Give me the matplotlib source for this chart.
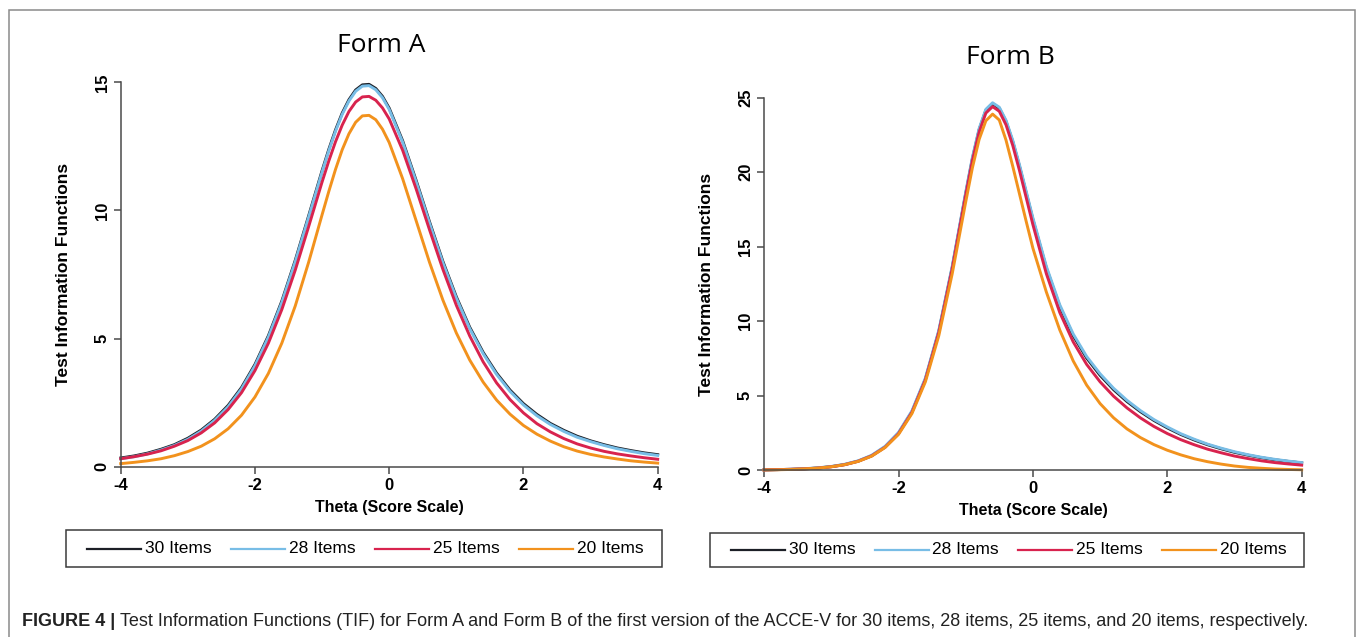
import matplotlib
matplotlib.use('Agg')
import matplotlib.pyplot as plt
from matplotlib.patches import Rectangle
from matplotlib.lines import Line2D

W, H = 1358, 637

# theta grid (shared by both forms), finer around the peaks
THETA = [-4.0, -3.8, -3.6, -3.4, -3.2, -3.0, -2.8, -2.6, -2.4, -2.2, -2.0, -1.8, -1.6, -1.4, -1.2, -1.0,
         -0.9, -0.8, -0.7, -0.6, -0.5, -0.4, -0.3, -0.2, -0.1, 0.0,
         0.2, 0.4, 0.6, 0.8, 1.0, 1.2, 1.4, 1.6, 1.8, 2.0, 2.2, 2.4, 2.6, 2.8, 3.0, 3.2, 3.4, 3.6, 3.8, 4.0]

# Form A test information
A_30 = [0.34, 0.42, 0.53, 0.68, 0.86, 1.11, 1.43, 1.85, 2.39, 3.09, 3.99, 5.11, 6.46, 8.05, 9.79, 11.55,
        12.38, 13.14, 13.80, 14.32, 14.70, 14.90, 14.92, 14.76, 14.45, 13.99,
        12.72, 11.18, 9.56, 8.01, 6.63, 5.44, 4.46, 3.65, 2.99, 2.46, 2.04, 1.69, 1.42, 1.19, 1.01, 0.86,
        0.73, 0.63, 0.54, 0.47]
A_28 = [0.31, 0.39, 0.50, 0.65, 0.83, 1.07, 1.39, 1.81, 2.34, 3.04, 3.94, 5.06, 6.41, 8.00, 9.74, 11.50,
        12.33, 13.09, 13.75, 14.27, 14.65, 14.85, 14.87, 14.71, 14.40, 13.94,
        12.67, 11.13, 9.51, 7.96, 6.58, 5.39, 4.41, 3.60, 2.94, 2.41, 1.99, 1.65, 1.38, 1.15, 0.98, 0.83,
        0.70, 0.60, 0.51, 0.44]
A_25 = [0.31, 0.39, 0.49, 0.62, 0.80, 1.02, 1.32, 1.71, 2.23, 2.89, 3.75, 4.82, 6.13, 7.67, 9.37, 11.11,
        11.93, 12.68, 13.33, 13.86, 14.23, 14.43, 14.45, 14.30, 14.00, 13.57,
        12.35, 10.85, 9.25, 7.70, 6.30, 5.10, 4.09, 3.27, 2.62, 2.10, 1.68, 1.36, 1.10, 0.89, 0.73, 0.60,
        0.50, 0.42, 0.35, 0.29]
A_20 = [0.12, 0.17, 0.23, 0.31, 0.43, 0.59, 0.80, 1.09, 1.48, 2.01, 2.72, 3.64, 4.82, 6.27, 7.98, 9.83,
        10.74, 11.60, 12.37, 12.99, 13.44, 13.69, 13.71, 13.54, 13.17, 12.65,
        11.24, 9.61, 7.98, 6.50, 5.22, 4.16, 3.30, 2.60, 2.05, 1.61, 1.27, 1.00, 0.78, 0.61, 0.48, 0.38,
        0.30, 0.23, 0.18, 0.14]

# Form B test information
B_30 = [0.02, 0.04, 0.06, 0.09, 0.15, 0.24, 0.38, 0.61, 0.97, 1.56, 2.48, 3.92, 6.11, 9.31, 13.61, 18.56,
        20.91, 22.85, 24.15, 24.60, 24.29, 23.40, 22.05, 20.40, 18.61, 16.82,
        13.57, 10.99, 9.03, 7.53, 6.37, 5.41, 4.61, 3.93, 3.34, 2.84, 2.40, 2.03, 1.71, 1.44, 1.20, 1.01,
        0.84, 0.70, 0.59, 0.49]
B_28 = [0.02, 0.04, 0.06, 0.10, 0.16, 0.25, 0.40, 0.63, 1.00, 1.60, 2.53, 3.98, 6.18, 9.39, 13.70, 18.65,
        21.00, 22.93, 24.22, 24.66, 24.36, 23.48, 22.14, 20.50, 18.72, 16.93,
        13.68, 11.10, 9.14, 7.63, 6.47, 5.50, 4.69, 4.00, 3.40, 2.90, 2.45, 2.08, 1.75, 1.48, 1.24, 1.04,
        0.87, 0.73, 0.61, 0.51]
B_25 = [0.02, 0.04, 0.06, 0.09, 0.14, 0.23, 0.37, 0.60, 0.96, 1.54, 2.45, 3.88, 6.06, 9.25, 13.53, 18.46,
        20.79, 22.70, 23.97, 24.40, 24.09, 23.18, 21.80, 20.12, 18.30, 16.48,
        13.19, 10.58, 8.61, 7.10, 5.93, 4.97, 4.18, 3.51, 2.94, 2.46, 2.05, 1.71, 1.41, 1.17, 0.95, 0.78,
        0.63, 0.51, 0.42, 0.34]
B_20 = [0.02, 0.03, 0.05, 0.09, 0.14, 0.23, 0.37, 0.59, 0.94, 1.52, 2.40, 3.80, 5.93, 9.03, 13.20, 18.00,
        20.30, 22.20, 23.45, 23.90, 23.50, 22.15, 20.40, 18.55, 16.70, 14.90,
        11.96, 9.41, 7.33, 5.71, 4.47, 3.52, 2.77, 2.19, 1.72, 1.34, 1.03, 0.77, 0.57, 0.41, 0.28, 0.19,
        0.13, 0.08, 0.05, 0.03]

LABELS = ['30 Items', '28 Items', '25 Items', '20 Items']
COLORS = ['#1c1f26', '#78bde6', '#d8234e', '#f2921d']
XTICKS = [-4, -2, 0, 2, 4]
XTICKLABELS = ['-4', '-2', '0', '2', '4']
CAPTION_HEAD = 'FIGURE 4 |'
CAPTION = ('Test Information Functions (TIF) for Form A and Form B of the first version of the '
           'ACCE-V for 30 items, 28 items, 25 items, and 20 items, respectively.')

SANS = 'Liberation Sans'


def fx(px):
    return px / W


def fy(py):
    return 1 - py / H


fig = plt.figure(figsize=(W / 100, H / 100), dpi=100)
fig.patch.set_facecolor('white')

# outer frame (bottom edge sits below the image)
fig.add_artist(Rectangle((fx(8.5), fy(700)), fx(1355) - fx(8.5), fy(10) - fy(700),
                         transform=fig.transFigure, fill=False, edgecolor='#8a8a8a', lw=1.1))

panels = [
    dict(title='Form A', series=[A_30, A_28, A_25, A_20], ymax=15, yticks=[0, 5, 10, 15],
         box=(120.7, 657.7, 82.3, 466.7), title_xy=(381, 51.7),
         legend=(66, 661.7, 530, 567)),
    dict(title='Form B', series=[B_30, B_28, B_25, B_20], ymax=25, yticks=[0, 5, 10, 15, 20, 25],
         box=(764.1, 1301.7, 97.7, 470.2), title_xy=(1010, 64.3),
         legend=(710, 1304, 532.5, 567)),
]

for p in panels:
    x0, x1, ytop, ybot = p['box']
    ax = fig.add_axes([fx(x0), fy(ybot), fx(x1) - fx(x0), fy(ytop) - fy(ybot)])
    for vals, c in zip(p['series'], COLORS):
        ax.plot(THETA, vals, color=c, lw=2.1, clip_on=False, solid_joinstyle='round')
    ax.set_xlim(-4, 4)
    ax.set_ylim(0, p['ymax'])
    for s in ['top', 'right']:
        ax.spines[s].set_visible(False)
    for s in ['left', 'bottom']:
        ax.spines[s].set_color('#4a4a4a')
        ax.spines[s].set_linewidth(1.1)
    ax.set_xticks(XTICKS)
    ax.set_xticklabels(XTICKLABELS, fontfamily=SANS, fontweight='bold', fontsize=12)
    ax.set_yticks(p['yticks'])
    ax.set_yticklabels([str(t) for t in p['yticks']], rotation=90, va='center',
                       fontfamily=SANS, fontweight='bold', fontsize=12)
    ax.tick_params(axis='both', direction='out', length=5, width=1.1, color='#4a4a4a', pad=3)
    ax.set_xlabel('Theta (Score Scale)', fontfamily=SANS, fontweight='bold', fontsize=11.5,
                  labelpad=5)
    ax.set_ylabel('Test Information Functions', fontfamily=SANS, fontweight='bold',
                  fontsize=12.5, labelpad=17)
    ax.patch.set_alpha(0)

    tx, ty = p['title_xy']
    fig.text(fx(tx), fy(ty), p['title'], ha='center', va='baseline',
             fontfamily='Open Sans', fontsize=19)

    # legend box drawn by hand so the spacing follows the original
    lx0, lx1, ly0, ly1 = p['legend']
    fig.add_artist(Rectangle((fx(lx0), fy(ly1)), fx(lx1) - fx(lx0), fy(ly0) - fy(ly1),
                             transform=fig.transFigure, fill=False, edgecolor='#3a3a3a', lw=1.1))
    ymid = (ly0 + ly1) / 2
    step = (lx1 - lx0 - 20) / 4
    for i, (lab, c) in enumerate(zip(LABELS, COLORS)):
        sx = lx0 + 21 + i * step
        fig.add_artist(Line2D([fx(sx), fx(sx + 54)], [fy(ymid), fy(ymid)],
                              transform=fig.transFigure, color=c, lw=1.6))
        fig.text(fx(sx + 58), fy(ymid), lab, ha='left', va='center',
                 fontfamily=SANS, fontsize=12.5)

# caption
head = fig.text(fx(22), fy(626.5), CAPTION_HEAD, ha='left', va='baseline',
                fontfamily=SANS, fontweight='bold', fontsize=13, color='#222222')
fig.canvas.draw()
bb = head.get_window_extent(fig.canvas.get_renderer())
fig.text(fx(bb.x1 + 5), fy(626.5), CAPTION, ha='left', va='baseline',
         fontfamily=SANS, fontsize=13, color='#222222')

fig.savefig('out.png', dpi=100, facecolor='white')
